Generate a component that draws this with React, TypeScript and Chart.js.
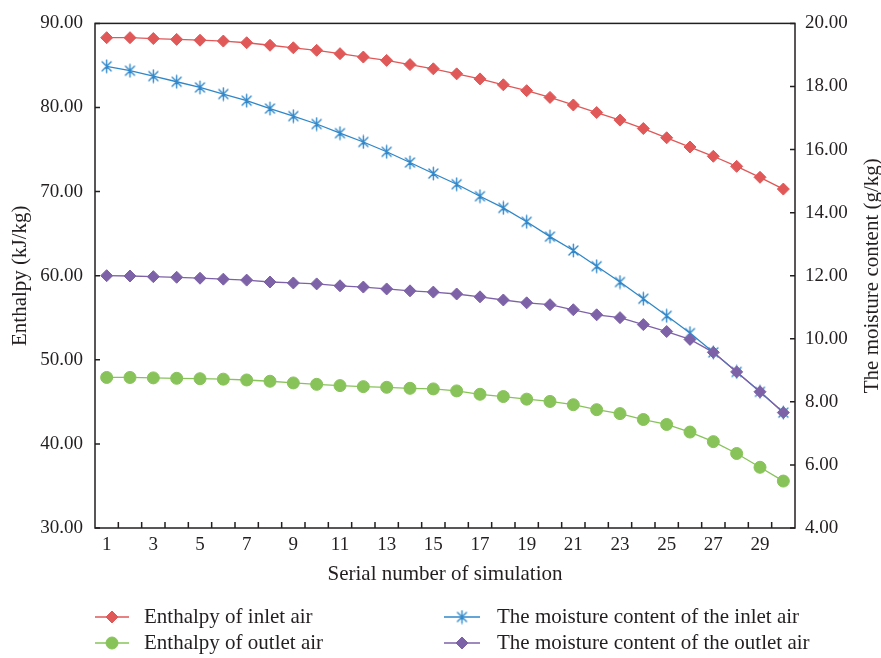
import React, { useEffect, useRef } from 'react';
import { Chart, registerables } from 'chart.js';
import { drawPoint } from 'chart.js/helpers';

Chart.register(...registerables);

const serialNumbers = ['1', '2', '3', '4', '5', '6', '7', '8', '9', '10', '11', '12', '13', '14', '15', '16', '17', '18', '19', '20', '21', '22', '23', '24', '25', '26', '27', '28', '29', '30'];

const enthalpyInlet = [88.3, 88.3, 88.2, 88.1, 88.0, 87.9, 87.7, 87.4, 87.1, 86.8, 86.4, 86.0, 85.6, 85.1, 84.6, 84.0, 83.4, 82.7, 82.0, 81.2, 80.3, 79.4, 78.5, 77.5, 76.4, 75.3, 74.2, 73.0, 71.7, 70.3];
const enthalpyOutlet = [47.9, 47.9, 47.85, 47.8, 47.75, 47.7, 47.6, 47.45, 47.25, 47.08, 46.93, 46.81, 46.73, 46.61, 46.54, 46.3, 45.9, 45.63, 45.32, 45.05, 44.66, 44.07, 43.6, 42.9, 42.31, 41.41, 40.27, 38.86, 37.22, 35.58];
const moistureInlet = [18.64, 18.5, 18.33, 18.15, 17.97, 17.76, 17.55, 17.3, 17.06, 16.81, 16.52, 16.24, 15.93, 15.59, 15.24, 14.9, 14.52, 14.15, 13.71, 13.24, 12.8, 12.3, 11.8, 11.27, 10.73, 10.18, 9.57, 8.95, 8.32, 7.66];
const moistureOutlet = [12.0, 11.99, 11.97, 11.95, 11.92, 11.89, 11.86, 11.8, 11.77, 11.74, 11.68, 11.64, 11.58, 11.52, 11.48, 11.42, 11.33, 11.23, 11.14, 11.08, 10.92, 10.76, 10.67, 10.45, 10.23, 9.98, 9.57, 8.95, 8.32, 7.66];

const seriesNames = [
  'Enthalpy of inlet air',
  'Enthalpy of outlet air',
  'The moisture content of the inlet air',
  'The moisture content of the outlet air',
];

const leftAxisTicks = [30, 40, 50, 60, 70, 80, 90];
const rightAxisTicks = [4, 6, 8, 10, 12, 14, 16, 18, 20];

const RED = '#E05858';
const GREEN = '#88C35A';
const BLUE = '#2F87C9';
const PURPLE = '#7E62A8';
const AXIS = '#231F20';
const FONT = 'Liberation Serif';

function makeAsterisk(color: string): HTMLCanvasElement {
  const c = document.createElement('canvas');
  c.width = 15;
  c.height = 15;
  const g = c.getContext('2d')!;
  g.strokeStyle = color;
  g.lineWidth = 1.4;
  g.lineCap = 'round';
  g.beginPath();
  g.moveTo(7.5, 1.2);
  g.lineTo(7.5, 13.8);
  g.moveTo(3.0, 3.0);
  g.lineTo(12.0, 12.0);
  g.moveTo(12.0, 3.0);
  g.lineTo(3.0, 12.0);
  g.stroke();
  return c;
}

const framePlugin = {
  id: 'frame',
  afterDraw(chart: any) {
    const { ctx, chartArea } = chart;
    const { left, right, top, bottom } = chartArea;
    const xs = chart.scales.x;
    const yl = chart.scales.y;
    const yr = chart.scales.y1;
    ctx.save();
    ctx.strokeStyle = AXIS;
    ctx.lineWidth = 1.5;
    ctx.strokeRect(left, top, right - left, bottom - top);
    ctx.beginPath();
    const n = xs.ticks.length;
    for (let i = 1; i < n; i++) {
      const px = (xs.getPixelForTick(i - 1) + xs.getPixelForTick(i)) / 2;
      ctx.moveTo(px, bottom);
      ctx.lineTo(px, bottom - 6);
    }
    yl.ticks.forEach((_: any, i: number) => {
      const py = yl.getPixelForTick(i);
      ctx.moveTo(left, py);
      ctx.lineTo(left + 5, py);
    });
    yr.ticks.forEach((_: any, i: number) => {
      const py = yr.getPixelForTick(i);
      ctx.moveTo(right, py);
      ctx.lineTo(right - 5, py);
    });
    ctx.stroke();

    // right axis title (reads bottom to top)
    ctx.save();
    ctx.translate(872, (top + bottom) / 2);
    ctx.rotate(-Math.PI / 2);
    ctx.font = `21px "${FONT}"`;
    ctx.fillStyle = AXIS;
    ctx.textAlign = 'center';
    ctx.textBaseline = 'middle';
    ctx.fillText('The moisture content (g/kg)', 0, 0);
    ctx.restore();

    // legend
    const slots = [
      { x0: 95, x1: 129, tx: 144, y: 617 },
      { x0: 95, x1: 129, tx: 144, y: 643 },
      { x0: 444, x1: 480, tx: 497, y: 617 },
      { x0: 444, x1: 480, tx: 497, y: 643 },
    ];
    chart.data.datasets.forEach((ds: any, i: number) => {
      const s = slots[i];
      ctx.strokeStyle = ds.borderColor;
      ctx.lineWidth = 1.5;
      ctx.beginPath();
      ctx.moveTo(s.x0, s.y);
      ctx.lineTo(s.x1, s.y);
      ctx.stroke();
      ctx.fillStyle = ds.pointBackgroundColor;
      ctx.strokeStyle = ds.pointBorderColor;
      ctx.lineWidth = 1;
      drawPoint(ctx, { pointStyle: ds.pointStyle, radius: ds.pointRadius, borderWidth: 1, rotation: 0 }, (s.x0 + s.x1) / 2, s.y);
      ctx.fillStyle = AXIS;
      ctx.font = `21px "${FONT}"`;
      ctx.textAlign = 'left';
      ctx.textBaseline = 'middle';
      ctx.fillText(ds.label, s.tx, s.y);
    });
    ctx.restore();
  },
};

export default function App() {
  const ref = useRef<HTMLCanvasElement | null>(null);

  useEffect(() => {
    document.body.style.margin = '0';
    const canvas = ref.current!;
    const asterisk = makeAsterisk(BLUE);
    const tickFont = { family: FONT, size: 19 };
    const titleFont = { family: FONT, size: 21 };

    const chart = new Chart(canvas, {
      type: 'line',
      data: {
        labels: serialNumbers,
        datasets: [
          {
            label: seriesNames[0],
            data: enthalpyInlet,
            yAxisID: 'y',
            borderColor: RED,
            backgroundColor: RED,
            pointBackgroundColor: RED,
            pointBorderColor: RED,
            pointStyle: 'rectRot',
            pointRadius: 6,
            pointBorderWidth: 1,
            borderWidth: 1.3,
            order: 3,
          },
          {
            label: seriesNames[1],
            data: enthalpyOutlet,
            yAxisID: 'y',
            borderColor: GREEN,
            backgroundColor: GREEN,
            pointBackgroundColor: GREEN,
            pointBorderColor: GREEN,
            pointStyle: 'circle',
            pointRadius: 6,
            pointBorderWidth: 1,
            borderWidth: 1.3,
            order: 2,
          },
          {
            label: seriesNames[2],
            data: moistureInlet,
            yAxisID: 'y1',
            borderColor: BLUE,
            backgroundColor: BLUE,
            pointBackgroundColor: BLUE,
            pointBorderColor: BLUE,
            pointStyle: asterisk as any,
            pointRadius: 7,
            pointBorderWidth: 1,
            borderWidth: 1.3,
            order: 1,
          },
          {
            label: seriesNames[3],
            data: moistureOutlet,
            yAxisID: 'y1',
            borderColor: PURPLE,
            backgroundColor: PURPLE,
            pointBackgroundColor: PURPLE,
            pointBorderColor: PURPLE,
            pointStyle: 'rectRot',
            pointRadius: 6,
            pointBorderWidth: 1,
            borderWidth: 1.3,
            order: 0,
          },
        ],
      },
      options: {
        animation: false,
        responsive: false,
        layout: { padding: { top: 17, left: 0, right: 0, bottom: 0 } },
        plugins: { legend: { display: false }, tooltip: { enabled: false } },
        scales: {
          x: {
            offset: true,
            grid: { display: false, drawTicks: false, offset: true },
            border: { display: false },
            ticks: {
              autoSkip: false,
              maxRotation: 0,
              padding: 6,
              font: tickFont,
              color: AXIS,
              callback: (_v: any, i: number) => (i % 2 === 0 ? serialNumbers[i] : ''),
            },
            title: {
              display: true,
              text: 'Serial number of simulation',
              font: titleFont,
              color: AXIS,
              padding: { top: 0, bottom: 71 },
            },
            afterFit: (s: any) => {
              s.height = 130;
            },
          },
          y: {
            position: 'left',
            min: leftAxisTicks[0],
            max: leftAxisTicks[leftAxisTicks.length - 1],
            grid: { display: false, drawTicks: false },
            border: { display: false },
            ticks: {
              stepSize: leftAxisTicks[1] - leftAxisTicks[0],
              padding: 12,
              font: tickFont,
              color: AXIS,
              callback: (v: any) => Number(v).toFixed(2),
            },
            title: {
              display: true,
              text: 'Enthalpy (kJ/kg)',
              font: titleFont,
              color: AXIS,
              padding: { top: 8, bottom: 0 },
            },
            afterFit: (s: any) => {
              s.width = 95;
            },
          },
          y1: {
            position: 'right',
            min: rightAxisTicks[0],
            max: rightAxisTicks[rightAxisTicks.length - 1],
            grid: { display: false, drawTicks: false },
            border: { display: false },
            ticks: {
              stepSize: rightAxisTicks[1] - rightAxisTicks[0],
              padding: 10,
              font: tickFont,
              color: AXIS,
              callback: (v: any) => Number(v).toFixed(2),
            },
            afterFit: (s: any) => {
              s.width = 86;
            },
          },
        },
      },
      plugins: [framePlugin],
    } as any);

    return () => chart.destroy();
  }, []);

  return <canvas ref={ref} width={881} height={658} style={{ display: 'block' }} />;
}
